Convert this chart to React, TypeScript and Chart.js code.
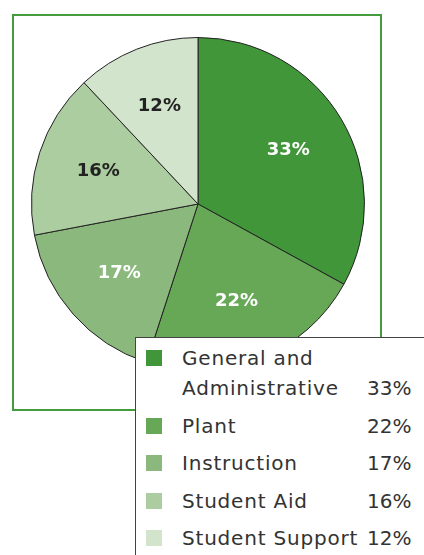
import React, { useEffect, useRef } from "react";
import { Chart, registerables } from "chart.js";

Chart.register(...registerables);

const CATEGORIES = ["General and Administrative", "Plant", "Instruction", "Student Aid", "Student Support"];
const VALUES = [33, 22, 17, 16, 12];
const COLORS = ["#41963a", "#67a857", "#8bb87c", "#accd9f", "#d2e4cb"];
const LABEL_COLORS = ["#ffffff", "#ffffff", "#ffffff", "#222222", "#222222"];
const PERCENT_LABELS = VALUES.map((v) => `${v}%`);

const sliceLabels = {
  id: "sliceLabels",
  afterDatasetsDraw(chart: any) {
    const ctx = chart.ctx;
    const meta = chart.getDatasetMeta(0);
    ctx.save();
    ctx.font = 'bold 18px "DejaVu Sans"';
    ctx.textAlign = "center";
    ctx.textBaseline = "middle";
    meta.data.forEach((arc: any, i: number) => {
      const p = arc.getProps(["x", "y", "startAngle", "endAngle", "outerRadius"], true);
      const mid = (p.startAngle + p.endAngle) / 2;
      const d = p.outerRadius * 0.63;
      ctx.fillStyle = LABEL_COLORS[i];
      ctx.fillText(PERCENT_LABELS[i], p.x + Math.cos(mid) * d, p.y + Math.sin(mid) * d);
    });
    ctx.restore();
  },
};

export default function App() {
  const ref = useRef<HTMLCanvasElement>(null);
  useEffect(() => {
    if (!ref.current) return;
    const chart = new Chart(ref.current, {
      type: "pie",
      data: {
        labels: CATEGORIES,
        datasets: [
          {
            data: VALUES,
            backgroundColor: COLORS,
            borderColor: "#222222",
            borderWidth: 1,
            hoverOffset: 0,
          },
        ],
      },
      options: {
        responsive: false,
        animation: false,
        layout: { padding: 3 },
        plugins: { legend: { display: false }, tooltip: { enabled: false } },
        events: [],
      },
      plugins: [sliceLabels],
    });
    return () => chart.destroy();
  }, []);

  return (
    <div
      style={{
        position: "fixed",
        left: 0,
        top: 0,
        width: 424,
        height: 555,
        overflow: "hidden",
        background: "#ffffff",
      }}
    >
      <div
        style={{
          position: "absolute",
          left: 12,
          top: 14,
          width: 370,
          height: 397,
          boxSizing: "border-box",
          border: "2px solid #449c3c",
        }}
      />
      <canvas
        ref={ref}
        width={340}
        height={340}
        style={{ position: "absolute", left: 28, top: 34, width: 340, height: 340 }}
      />
      <div
        style={{
          position: "absolute",
          left: 135,
          top: 337,
          width: 320,
          height: 260,
          boxSizing: "border-box",
          border: "1px solid #444444",
          background: "#ffffff",
          padding: "5px 0 0 10px",
          fontFamily: '"DejaVu Sans", sans-serif',
          fontSize: 20,
          letterSpacing: 0.8,
          color: "#333333",
        }}
      >
        {CATEGORIES.map((c, i) => (
          <div
            key={c}
            style={{
              display: "flex",
              width: 265,
              alignItems: "flex-start",
              lineHeight: "30px",
              marginBottom: 7.5,
            }}
          >
            <div
              style={{
                width: 16,
                height: 16,
                marginTop: 7,
                marginRight: 20,
                background: COLORS[i],
                flex: "none",
              }}
            />
            <div style={{ flex: 1, minWidth: 0 }}>{c}</div>
            <div style={{ width: 44, textAlign: "right", alignSelf: "flex-end", flex: "none", letterSpacing: 0 }}>
              {PERCENT_LABELS[i]}
            </div>
          </div>
        ))}
      </div>
    </div>
  );
}
